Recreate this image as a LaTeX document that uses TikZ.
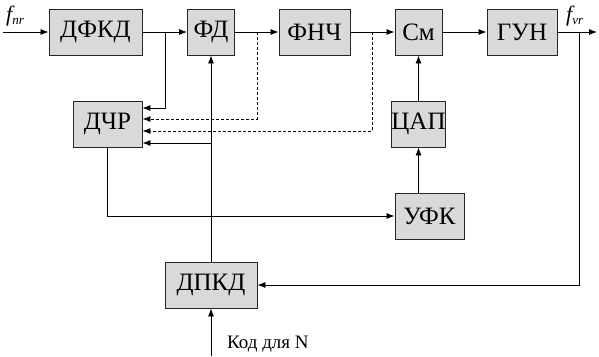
\documentclass[tikz,border=0pt]{standalone}
\usepackage{fontspec}
\setmainfont{Liberation Serif}
\newfontfamily\serifru{Liberation Serif}
\usetikzlibrary{arrows.meta,calc}
\definecolor{boxfill}{HTML}{D9D9D9}
\tikzset{
  blk/.style={draw=black!85, line width=0.9pt, fill=boxfill, inner sep=0pt,
    font=\serifru\fontsize{25}{28}\selectfont},
  arr/.style={line width=0.8pt, -{Latex[length=8pt,width=6pt]}},
  dsh/.style={line width=0.8pt, dash pattern=on 3pt off 2pt, -{Latex[length=8pt,width=6pt]}},
  lbl/.style={inner sep=0pt, font=\serifru\fontsize{22}{24}\selectfont},
}
\begin{document}
\begin{tikzpicture}[x=1pt,y=-1pt]
\useasboundingbox (0,0) rectangle (599,356);
% blocks
\node[blk, minimum width=93pt, minimum height=46pt] (dfkd) at (95.5,32) {ДФКД};
\node[blk, minimum width=47pt, minimum height=46pt] (fd) at (211,32) {ФД};
\node[blk, minimum width=71pt, minimum height=46pt] (fnch) at (314.5,32) {ФНЧ};
\node[blk, minimum width=47pt, minimum height=46pt] (sm) at (418.5,32) {См};
\node[blk, minimum width=70pt, minimum height=46pt] (gun) at (522,32) {ГУН};
\node[blk, minimum width=69pt, minimum height=46pt] (dchr) at (107.5,124) {ДЧР};
\node[blk, minimum width=47pt, minimum height=46pt] (cap) at (418.5,124) {ЦАП};
\node[blk, minimum width=69pt, minimum height=46pt] (ufk) at (429.5,216) {УФК};
\node[blk, minimum width=92pt, minimum height=46pt] (dpkd) at (211,285) {ДПКД};
% coordinates
\coordinate (in) at (3,32);
\coordinate (out) at (597,32);
\coordinate (b1) at (165,32);
\coordinate (b2) at (257,32);
\coordinate (b3) at (372,32);
\coordinate (b4) at (579,32);
\coordinate (j) at (211,143);
\coordinate (kin) at (211,356);
% labels
\node[lbl, anchor=base west] (fnr) at (6,21) {\itshape f\raisebox{-3pt}{\fontsize{13}{13}\selectfont\itshape nr}};
\node[lbl, anchor=base west] (fvr) at (566,21) {\itshape f\raisebox{-3pt}{\fontsize{13}{13}\selectfont\itshape vr}};
\node[inner sep=0pt, anchor=base west, font=\serifru\fontsize{19}{21}\selectfont] (kod) at (227,348) {Код для N};
% main chain
\draw[arr] (in) -- (dfkd.west);
\draw[arr] (dfkd.east) -- (fd.west);
\draw[arr] (fd.east) -- (fnch.west);
\draw[arr] (fnch.east) -- (sm.west);
\draw[arr] (sm.east) -- (gun.west);
\draw[arr] (gun.east) -- (out);
% branches to ДЧР
\draw[arr] (b1) |- ([yshift=16pt]dchr.east);
\draw[dsh] (b2) |- ([yshift=5pt]dchr.east);
\draw[dsh] (b3) |- ([yshift=-7pt]dchr.east);
\draw[arr] (j) -- (j -| dchr.east);
% ДПКД to ФД
\draw[arr] (dpkd.north) -- (fd.south);
\draw[arr] (kin) -- (dpkd.south);
% ДЧР to УФК
\draw[arr] (dchr.south) |- (ufk.west);
% УФК -> ЦАП -> См
\draw[arr] (cap.south |- ufk.north) -- (cap.south);
\draw[arr] (cap.north) -- (sm.south);
% feedback
\draw[arr] (b4) |- (dpkd.east);
\end{tikzpicture}
\end{document}
